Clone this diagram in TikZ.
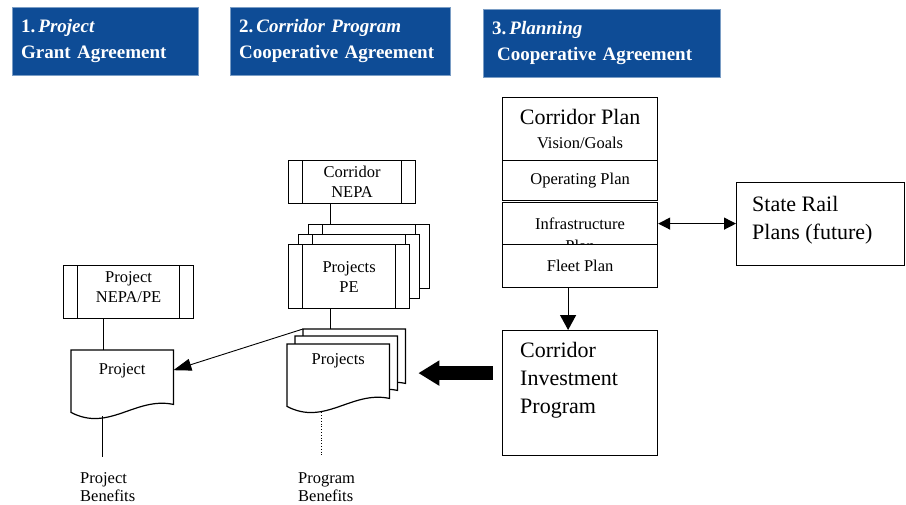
\documentclass[tikz,border=0pt]{standalone}
\usepackage{fontspec}
\setmainfont{Liberation Serif}
\usetikzlibrary{arrows.meta}
\definecolor{hdrblue}{RGB}{14,76,150}
\tikzset{
  hdr/.style={fill=hdrblue, draw=hdrblue!55!white, text=white, anchor=north west,
    font=\bfseries\fontsize{19}{25.5}\selectfont, align=left, inner xsep=9pt,
    text width=#1, minimum height=68pt},
  procbox/.style={draw, fill=white, line width=1.2pt, inner sep=0pt, anchor=north west,
    align=center, font=\fontsize{16.5}{20}\selectfont,
    path picture={
      \draw[line width=1.2pt] ([xshift=14pt]path picture bounding box.north west) -- ([xshift=14pt]path picture bounding box.south west);
      \draw[line width=1.2pt] ([xshift=-14pt]path picture bounding box.north east) -- ([xshift=-14pt]path picture bounding box.south east);}},
  plainbox/.style={draw, fill=white, line width=1.2pt, inner sep=0pt, anchor=north west, align=center},
  sheet/.style={anchor=north west, inner sep=0pt, minimum width=102pt, minimum height=62pt},
  bigtxt/.style={font=\fontsize{22}{28}\selectfont},
  smalltxt/.style={font=\fontsize{16.5}{20}\selectfont},
  link/.style={line width=1.2pt},
}
\begin{document}
\begin{tikzpicture}[x=1pt,y=-1pt]
\useasboundingbox (0,0) rectangle (906,504);
% headers
\node[hdr=168pt] (hdrone) at (12,7) {1.\hspace{3pt}\textit{Project}\\Grant Agreement};
\node[hdr=202pt] (hdrtwo) at (230,7) {2.\hspace{3pt}\textit{Corridor Program}\\Cooperative Agreement};
\node[hdr=219pt] (hdrthree) at (483,9) {3.\hspace{3pt}\textit{Planning}\\\hspace*{5pt}Cooperative Agreement};
% corridor plan stack
\node[plainbox, minimum width=155pt, minimum height=63pt, font=\fontsize{16.5}{24}\selectfont] (cplan) at (502,97)
  {{\fontsize{22}{24}\selectfont Corridor Plan}\\Vision/Goals};
\node[plainbox, minimum width=155pt, minimum height=40pt, smalltxt] (oplan) at (502,160) {Operating Plan};
\node[plainbox, minimum width=155pt, minimum height=42pt] (infra) at (502,202) {};
\node[align=center, inner sep=0pt, font=\fontsize{16.5}{22}\selectfont] (infratxt) at ([yshift=-11pt]infra.center) {Infrastructure\\Plan};
\node[plainbox, minimum width=155pt, minimum height=43pt, smalltxt] (fleet) at (502,244) {Fleet Plan};
% investment program
\node[plainbox, minimum width=155pt, minimum height=125pt] (invest) at (502,330) {};
\node[bigtxt, align=left, anchor=north west, inner sep=0pt] (investtxt) at ([xshift=18pt,yshift=-12pt]invest.north west)
  {Corridor\\Investment\\Program};
% state rail plans
\node[plainbox, minimum width=168pt, minimum height=83pt] (srail) at (736,182) {};
\node[bigtxt, align=left, anchor=north west, inner sep=0pt] (srailtxt) at ([xshift=16pt,yshift=-14pt]srail.north west)
  {State Rail\\Plans (future)};
% corridor NEPA and projects PE
\node[procbox, minimum width=127pt, minimum height=43pt] (cnepa) at (288,160) {Corridor\\NEPA};
\foreach \s/\x/\y in {peC/308/224, peB/298/234}
  \node[procbox, minimum width=121pt, minimum height=64pt] (\s) at (\x,\y) {};
\node[procbox, minimum width=121pt, minimum height=64pt] (peA) at (288,244) {Projects\\PE};
% project NEPA/PE
\node[procbox, minimum width=130pt, minimum height=53pt] (projnepa) at (63,265) {};
\node[smalltxt, align=center, inner sep=0pt] (projnepatxt) at ([yshift=4.5pt]projnepa.center) {Project\\NEPA/PE};
% document sheets
\foreach \s/\x/\y in {progC/303/329, progB/295/336, progA/287/344, projdoc/71/350}{
  \node[sheet] (\s) at (\x,\y) {};
  \filldraw[link, fill=white] (\s.south west) -- (\s.north west) -- (\s.north east) -- ([yshift=8pt]\s.south east)
    .. controls ([xshift=-38pt,yshift=16pt]\s.south east) and ([xshift=38pt,yshift=-20pt]\s.south west) .. (\s.south west) -- cycle;
}
\node[smalltxt, inner sep=0pt] (progtxt) at ([yshift=-17pt]progA.north) {Projects};
\node[smalltxt, inner sep=0pt] (projtxt) at ([yshift=-21pt]projdoc.north) {Project};
% benefits
\node[align=left, anchor=north west, inner sep=0pt, font=\fontsize{16.5}{18}\selectfont] (projben) at (80,472) {Project\\Benefits};
\node[align=left, anchor=north west, inner sep=0pt, font=\fontsize{16.5}{18}\selectfont] (progben) at (298,472) {Program\\Benefits};
% connectors
\draw[link] ([xshift=-22pt]cnepa.south) -- ([xshift=-22pt]cnepa.south |- peC.north);
\draw[link] ([xshift=-19pt]peA.south) -- ([xshift=-19pt]peA.south |- progC.north);
\draw[link] ([xshift=-25pt]projnepa.south) -- ([xshift=-25pt]projnepa.south |- projdoc.north);
\draw[line width=1pt, shorten >=15pt] ([xshift=31.5pt,yshift=-4pt]projdoc.south west) -- ([xshift=31.5pt]projdoc.south west |- projben.north);
\draw[line width=0.8pt, dotted, shorten >=17pt] ([xshift=34pt,yshift=-6pt]progA.south west) -- ([xshift=34pt]progA.south west |- progben.north);
\draw[link, -{Triangle[length=15pt,width=16pt]}] ([xshift=-12pt]fleet.south) -- ([xshift=-12pt]fleet.south |- invest.north);
\draw[link, {Triangle[length=12pt,width=12pt]}-{Triangle[length=12pt,width=12pt]}] (infra.east) -- (infra.east -| srail.west);
\draw[line width=0.9pt, -{Triangle[length=18pt,width=12pt]}] (progC.north west) -- ([yshift=11pt]projdoc.east);
\draw[line width=14pt, shorten <=9pt, shorten >=13pt, -{Triangle[length=21pt,width=24pt]}]
  ([yshift=20pt]invest.west) -- ([yshift=20pt]invest.west -| progC.east);
\end{tikzpicture}
\end{document}
